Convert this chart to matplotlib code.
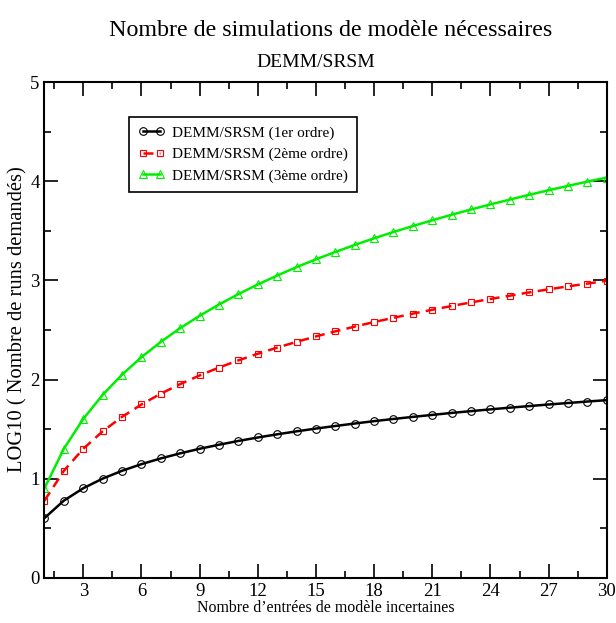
import matplotlib
matplotlib.use("Agg")
from matplotlib import pyplot as plt
from matplotlib.ticker import MultipleLocator

plt.rcParams['font.family'] = ['Liberation Serif', 'DejaVu Serif']

# Nombre d'entrées incertaines
n_entrees = list(range(1, 31))

# LOG10 du nombre de runs
ordre1 = [0.602, 0.778, 0.903, 1.000, 1.079, 1.146, 1.204, 1.255, 1.301, 1.342,
          1.380, 1.415, 1.447, 1.477, 1.505, 1.531, 1.556, 1.580, 1.602, 1.623,
          1.643, 1.663, 1.681, 1.699, 1.716, 1.732, 1.748, 1.763, 1.778, 1.792]
ordre2 = [0.778, 1.079, 1.301, 1.477, 1.623, 1.748, 1.857, 1.954, 2.041, 2.121,
          2.193, 2.260, 2.322, 2.380, 2.435, 2.486, 2.534, 2.580, 2.623, 2.665,
          2.704, 2.742, 2.778, 2.813, 2.846, 2.879, 2.910, 2.940, 2.968, 2.997]
ordre3 = [0.903, 1.301, 1.602, 1.845, 2.049, 2.225, 2.380, 2.519, 2.643, 2.757,
          2.862, 2.959, 3.049, 3.134, 3.213, 3.287, 3.358, 3.425, 3.489, 3.549,
          3.607, 3.663, 3.716, 3.767, 3.816, 3.864, 3.910, 3.954, 3.997, 4.038]

etiquettes = ["DEMM/SRSM (1er ordre)", "DEMM/SRSM (2ème ordre)", "DEMM/SRSM (3ème ordre)"]

fig = plt.figure(figsize=(6.16, 6.23), dpi=100)
ax = fig.add_axes([0.0722, 0.0727, 0.9128, 0.7953])

ax.plot(n_entrees, ordre1, color='black', lw=1.8, marker='o', ms=5.5,
        mfc='none', mec='black', mew=0.8, label=etiquettes[0])
ax.plot(n_entrees, ordre2, color='red', lw=1.8, ls=(0, (4, 2.5)), marker='s', ms=5,
        mfc='none', mec='red', mew=0.8, label=etiquettes[1])
ax.plot(n_entrees, ordre3, color='#00ee00', lw=1.8, marker='^', ms=6,
        mfc='none', mec='#00ee00', mew=0.8, label=etiquettes[2])

ax.set_xlim(1, 30)
ax.set_ylim(0, 5)
ax.xaxis.set_major_locator(MultipleLocator(3))
ax.xaxis.set_minor_locator(MultipleLocator(1.5))
ax.yaxis.set_major_locator(MultipleLocator(1))
ax.yaxis.set_minor_locator(MultipleLocator(0.5))
ax.set_xticks([3, 6, 9, 12, 15, 18, 21, 24, 27, 30])
ax.tick_params(which='both', direction='in', top=True, right=True, labelsize=13.5, width=1.2)
ax.tick_params(which='major', length=10)
ax.tick_params(which='minor', length=5)
for s in ax.spines.values():
    s.set_linewidth(1.5)

ax.set_xlabel("Nombre d’entrées de modèle incertaines", fontsize=11.4, labelpad=0)
ax.set_ylabel("LOG10 ( Nombre de runs demandés)", fontsize=14.8)
ax.yaxis.set_label_coords(-0.031, 0.521)

fig.text(0.537, 0.951, "Nombre de simulations de modèle nécessaires", fontsize=17.3, ha='center', va='center')
fig.text(0.513, 0.9, "DEMM/SRSM", fontsize=14, ha='center', va='center')

leg = ax.legend(loc='upper left', bbox_to_anchor=(0.150, 0.930), borderaxespad=0,
                numpoints=2, fontsize=11, fancybox=False, edgecolor='black',
                framealpha=1, handlelength=1.75, handletextpad=0.5, borderpad=0.6,
                labelspacing=0.5)
leg.get_frame().set_linewidth(1.2)

fig.savefig("out.png", dpi=100)
